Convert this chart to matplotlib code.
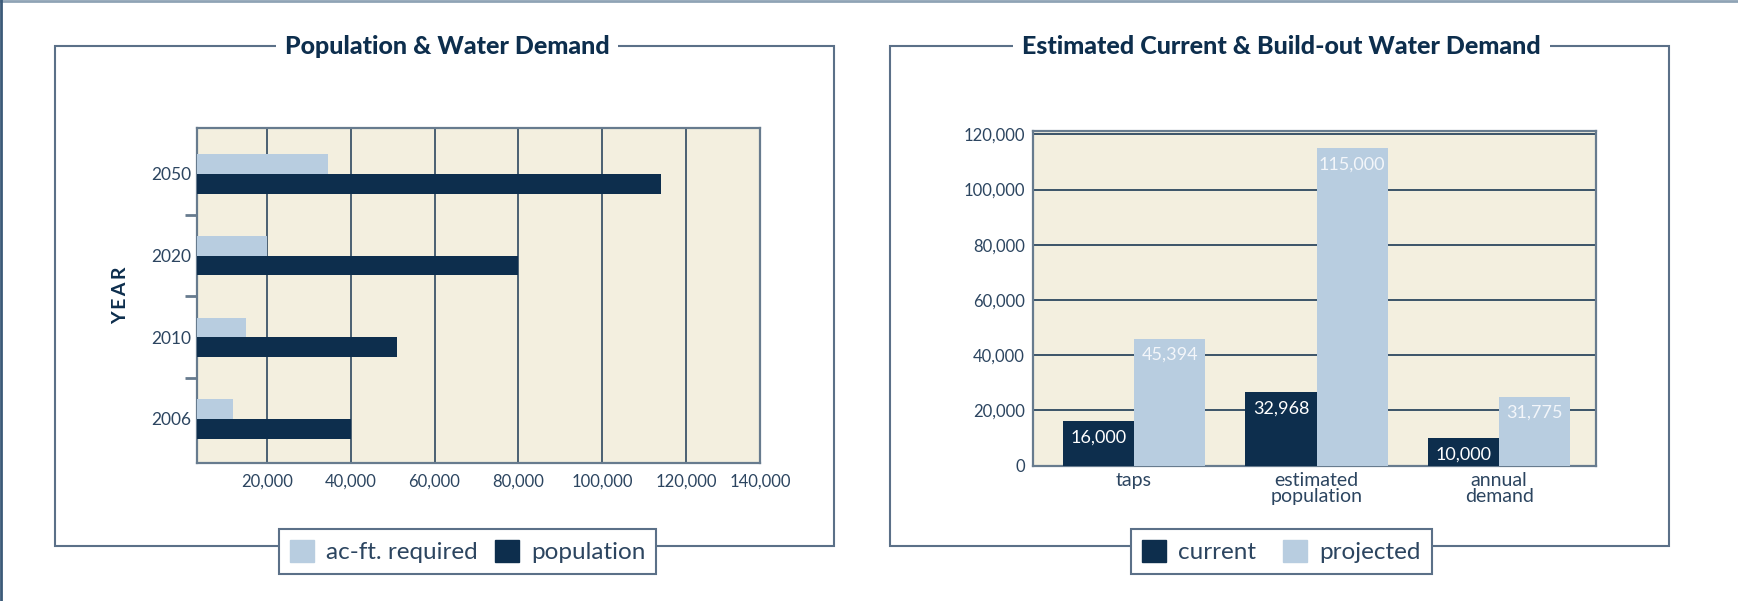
import matplotlib
matplotlib.use("Agg")
import matplotlib.pyplot as plt
from matplotlib.patches import Rectangle, Patch
from matplotlib.lines import Line2D
from matplotlib.ticker import FuncFormatter

# left panel: population & water demand
years = ["2006", "2010", "2020", "2050"]
acft_required = [12000, 15000, 20000, 34500]
population = [40000, 51000, 80000, 114000]
x_ticks_left = [20000, 40000, 60000, 80000, 100000, 120000, 137640]
x_labels_left = ["20,000", "40,000", "60,000", "80,000", "100,000", "120,000", "140,000"]

# right panel: current vs build-out demand
categories = ["taps", "estimated\npopulation", "annual\ndemand"]
current = [16000, 26500, 10000]
projected = [46000, 115000, 25000]
current_labels = ["16,000", "32,968", "10,000"]
projected_labels = ["45,394", "115,000", "31,775"]
y_ticks_right = [0, 20000, 40000, 60000, 80000, 100000, 120000]

DARK = "#0d2e4d"
LIGHT = "#b8cde0"
BG = "#f3efdf"
GRID = "#1c3954"
SPINE = "#677b8e"
TXT = "#2c4560"
FRAME = "#5b7088"

plt.rcParams["font.family"] = ["Lato", "DejaVu Sans"]

W, H = 1738, 601
fig = plt.figure(figsize=(W / 100, H / 100), dpi=100)


def fx(px):
    return px / W


def fy(py):
    return 1 - py / H


# outer border lines (top and left)
fig.add_artist(Line2D([0, 1], [fy(0.8), fy(0.8)], transform=fig.transFigure, color="#8fa3b5", lw=2))
fig.add_artist(Line2D([fx(1), fx(1)], [0, 1], transform=fig.transFigure, color="#3b5a78", lw=2))

# panel frames
for x0, x1 in [(55, 834), (890, 1669)]:
    fig.add_artist(Rectangle((fx(x0), fy(546)), fx(x1 - x0), fy(46) - fy(546),
                             transform=fig.transFigure, fill=False,
                             edgecolor=FRAME, lw=1.5, zorder=0))

# titles
for cx, title in [(447, "Population & Water Demand"),
                  (1281.5, "Estimated Current & Build-out Water Demand")]:
    fig.text(fx(cx), fy(46), title, ha="center", va="center", fontsize=18,
             fontweight="black", color=DARK,
             bbox=dict(boxstyle="square,pad=0.35", fc="white", ec="none"))

# ---- left chart ----
ax1 = fig.add_axes([fx(197), fy(463), fx(760 - 197), fy(128) - fy(463)])
ax1.set_facecolor(BG)
ypos = list(range(len(years)))
h = 0.24
ax1.barh([y + h / 2 for y in ypos], acft_required, height=h, color=LIGHT, zorder=3)
ax1.barh([y - h / 2 for y in ypos], population, height=h, color=DARK, zorder=3)
ax1.set_xlim(3340, 137640)
ax1.set_ylim(-0.539, 3.563)
ax1.set_xticks(x_ticks_left)
ax1.set_xticklabels(x_labels_left)
ax1.set_yticks(ypos)
ax1.set_yticklabels(years)
ax1.set_yticks([0.5, 1.5, 2.5], minor=True)
ax1.tick_params(axis="y", which="major", length=0, pad=4, labelsize=12.5, labelcolor=TXT)
ax1.tick_params(axis="y", which="minor", length=9, width=2, color=SPINE, direction="out")
ax1.tick_params(axis="x", length=0, pad=8, labelsize=12, labelcolor=TXT)
ax1.grid(axis="x", color=GRID, lw=1.1, zorder=1)
ax1.set_axisbelow(True)
for s in ax1.spines.values():
    s.set_color(SPINE)
    s.set_linewidth(1.6)
ax1.set_ylabel("Y\u2009E\u2009A\u2009R", fontsize=14, fontweight="bold", color=DARK, labelpad=16)

leg1 = ax1.legend(handles=[Patch(color=LIGHT, label="ac-ft. required"),
                           Patch(color=DARK, label="population")],
                  loc="center", bbox_to_anchor=(fx(467.5), fy(551.5)),
                  bbox_transform=fig.transFigure, ncol=2, fontsize=17.5,
                  frameon=True, fancybox=False, edgecolor=FRAME, framealpha=1,
                  handlelength=1.0, handleheight=1.0, handletextpad=0.5,
                  columnspacing=0.7, borderpad=0.45)
leg1.get_frame().set_linewidth(1.5)
for t in leg1.get_texts():
    t.set_color(TXT)

# ---- right chart ----
ax2 = fig.add_axes([fx(1033), fy(465.5), fx(1596 - 1033), fy(131) - fy(465.5)])
ax2.set_facecolor(BG)
xpos = list(range(len(categories)))
w = 0.39
b1 = ax2.bar([x - w / 2 for x in xpos], current, width=w, color=DARK, zorder=3)
b2 = ax2.bar([x + w / 2 for x in xpos], projected, width=w, color=LIGHT, zorder=3)
for bar, lab in zip(b1, current_labels):
    ax2.annotate(lab, (bar.get_x() + bar.get_width() / 2, bar.get_height()),
                 xytext=(0, -6), textcoords="offset points", ha="center", va="top",
                 fontsize=13, color="white", zorder=4)
for bar, lab in zip(b2, projected_labels):
    ax2.annotate(lab, (bar.get_x() + bar.get_width() / 2, bar.get_height()),
                 xytext=(0, -6), textcoords="offset points", ha="center", va="top",
                 fontsize=13, color="#f3f6fa", zorder=4)
ax2.set_xlim(-0.553, 2.53)
ax2.set_ylim(0, 121200)
ax2.set_yticks(y_ticks_right)
ax2.yaxis.set_major_formatter(FuncFormatter(lambda v, p: f"{int(v):,}"))
ax2.set_xticks(xpos)
ax2.set_xticklabels(categories, linespacing=0.9)
ax2.tick_params(axis="y", length=0, pad=6, labelsize=12, labelcolor=TXT)
ax2.tick_params(axis="x", length=0, pad=5, labelsize=14, labelcolor=TXT)
ax2.grid(axis="y", color=GRID, lw=1.2, zorder=1)
ax2.set_axisbelow(True)
for s in ax2.spines.values():
    s.set_color(SPINE)
    s.set_linewidth(1.6)

leg2 = ax2.legend(handles=[Patch(color=DARK, label="current"),
                           Patch(color=LIGHT, label="projected")],
                  loc="center", bbox_to_anchor=(fx(1281.5), fy(551.5)),
                  bbox_transform=fig.transFigure, ncol=2, fontsize=17.5,
                  frameon=True, fancybox=False, edgecolor=FRAME, framealpha=1,
                  handlelength=1.0, handleheight=1.0, handletextpad=0.5,
                  columnspacing=1.1, borderpad=0.45)
leg2.get_frame().set_linewidth(1.5)
for t in leg2.get_texts():
    t.set_color(TXT)

fig.savefig("out.png", dpi=100, facecolor="white")
